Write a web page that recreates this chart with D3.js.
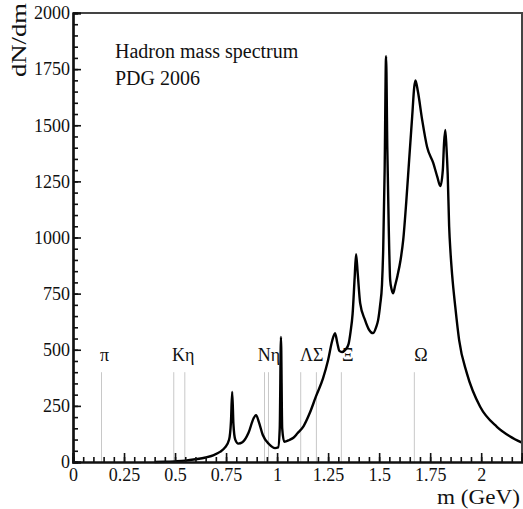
<!DOCTYPE html>
<html><head><meta charset="utf-8">
<script src="https://cdn.jsdelivr.net/npm/d3@7"></script>
<style>
body{margin:0;background:#fff;}
text{font-family:"Liberation Serif","Times New Roman",serif;fill:#111;}
</style></head>
<body><svg id="c" width="523" height="509"></svg>
<script>
// Spectrum curve: mass (GeV) and dN/dm
const mass = [0.40,0.45,0.50,0.55,0.60,0.65,0.69,0.72,0.745,0.765,0.774,0.780,0.786,0.795,0.81,0.83,0.86,0.885,0.897,0.91,0.93,0.96,0.99,1.005,1.013,1.019,1.025,1.035,1.06,1.08,1.10,1.13,1.16,1.19,1.225,1.25,1.27,1.284,1.295,1.305,1.318,1.335,1.35,1.36,1.37,1.38,1.387,1.395,1.407,1.431,1.45,1.47,1.485,1.495,1.505,1.514,1.52,1.527,1.534,1.540,1.547,1.554,1.561,1.569,1.578,1.59,1.605,1.618,1.633,1.647,1.662,1.672,1.678,1.69,1.711,1.735,1.765,1.785,1.80,1.812,1.818,1.824,1.83,1.836,1.843,1.85,1.858,1.873,1.892,1.93,1.995,2.077,2.14,2.20];
const dNdm = [0,1,3,6,12,20,31,45,65,100,180,312,170,100,82,88,130,195,209,180,120,80,62,65,150,557,150,90,98,108,128,160,218,291,372,454,540,574,530,495,490,500,525,580,660,820,926,840,708,632,590,574,600,632,700,790,950,1300,1808,1400,1050,811,770,752,785,830,900,989,1160,1345,1540,1670,1700,1650,1523,1403,1332,1270,1229,1300,1420,1479,1400,1280,1050,930,830,692,543,395,246,157,115,86];
// Particle markers
const particleMass = [0.1396,0.4937,0.5479,0.9383,0.9578,1.1157,1.1926,1.3149,1.6725];
const labelText = ["π","Kη","Nη","ΛΣ","Ξ","Ω"];
const labelMass = [0.132,0.485,0.905,1.112,1.318,1.672];
// Ticks
const xTicks = [0,0.25,0.5,0.75,1,1.25,1.5,1.75,2];
const yTicks = [0,250,500,750,1000,1250,1500,1750,2000];

const L=73,R=522,T=13,B=462;
const svg=d3.select("#c");
const x=d3.scaleLinear().domain([0,2.2]).range([L,R]);
const y=d3.scaleLinear().domain([0,2000]).range([B,T]);

// gray marker lines
svg.append("g").selectAll("line").data(particleMass).join("line")
 .attr("x1",d=>x(d)).attr("x2",d=>x(d)).attr("y1",y(0)).attr("y2",y(400))
 .attr("stroke","#c8c8c8").attr("stroke-width",1);
svg.append("g").selectAll("text").data(labelText).join("text")
 .attr("x",(d,i)=>x(labelMass[i])).attr("y",y(450)).attr("font-size",18).text(d=>d);

// curve
const line=d3.line().x((d,i)=>x(mass[i])).y(d=>y(d)).curve(d3.curveMonotoneX);
svg.append("path").attr("d",line(dNdm)).attr("fill","none").attr("stroke","#000").attr("stroke-width",2.4).attr("stroke-linejoin","round");

// frame top/right
svg.append("path").attr("d",`M${L},${T}H${R}V${B}`).attr("fill","none").attr("stroke","#444").attr("stroke-width",2);

// axes
const xMinor=d3.range(0,2.2001,0.05);
const yMinor=d3.range(0,2001,50);
const gx=svg.append("g").attr("transform",`translate(0,${B})`);
gx.call(d3.axisBottom(x).tickValues(xMinor).tickSize(-5).tickFormat(""));
gx.append("g").call(d3.axisBottom(x).tickValues(xTicks).tickSize(-9).tickPadding(6).tickFormat(d=>String(d)));
const gy=svg.append("g").attr("transform",`translate(${L},0)`);
gy.call(d3.axisLeft(y).tickValues(yMinor).tickSize(-5).tickFormat(""));
gy.append("g").call(d3.axisLeft(y).tickValues(yTicks).tickSize(-8).tickPadding(3).tickFormat(d=>String(d)));
svg.selectAll(".domain").attr("stroke","#111").attr("stroke-width",2.2);
svg.selectAll(".tick line").attr("stroke","#111").attr("stroke-width",1.6);
svg.selectAll(".tick text").attr("font-size",18).attr("font-family","Liberation Serif").attr("fill","#111");

// titles
svg.append("text").attr("x",115).attr("y",58).attr("font-size",20).text("Hadron mass spectrum");
svg.append("text").attr("x",115).attr("y",85).attr("font-size",20).text("PDG 2006");
svg.append("text").attr("x",520).attr("y",504).attr("text-anchor","end").attr("font-size",21)
 .attr("textLength",83).attr("lengthAdjust","spacingAndGlyphs").text("m (GeV)");
svg.append("text").attr("transform","translate(26,3) rotate(-90)").attr("text-anchor","end").attr("font-size",20)
 .attr("textLength",74).attr("lengthAdjust","spacingAndGlyphs").text("dN/dm");
</script></body></html>
